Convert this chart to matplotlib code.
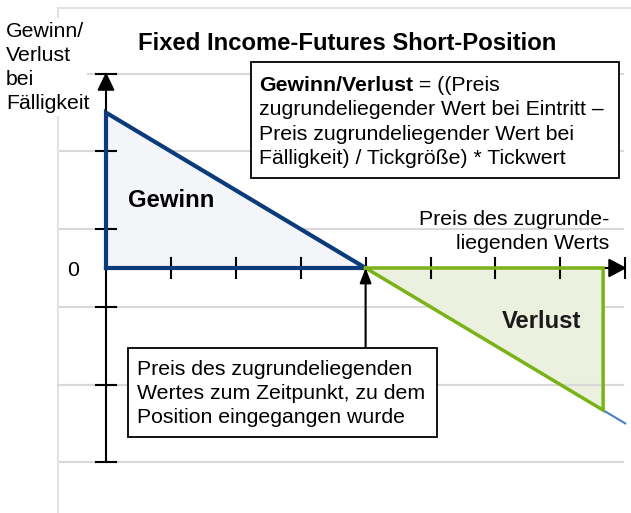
import matplotlib
matplotlib.use("Agg")
import matplotlib.pyplot as plt
from matplotlib.patches import Polygon, Rectangle

plt.rcParams['font.family'] = ['Liberation Sans', 'DejaVu Sans']

# --- data (payoff diagram of a short futures position) ---
entry_price = 4.0
price_max = 8.0
loss_end = 7.66
payoff_at_zero = 2.0
slope = -0.5
y_ticks = [2.5, 1.5, 0.5, -0.5, -1.5, -2.5]
x_ticks = [1, 2, 3, 4, 5, 6, 7]

title = "Fixed Income-Futures Short-Position"
ylabel_lines = ["Gewinn/", "Verlust", "bei", "Fälligkeit"]
xlabel_lines = ["Preis des zugrunde-", "liegenden Werts"]
gain_label = "Gewinn"
loss_label = "Verlust"
formula_bold = "Gewinn/Verlust"
formula_lines = [" = ((Preis", "zugrundeliegender Wert bei Eintritt –",
                 "Preis zugrundeliegender Wert bei", "Fälligkeit) / Tickgröße) * Tickwert"]
entry_lines = ["Preis des zugrundeliegenden", "Wertes zum Zeitpunkt, zu dem",
               "Position eingegangen wurde"]

W, H = 631, 513
fig = plt.figure(figsize=(W / 100, H / 100), dpi=100)

# pixel mapping: x=0 at px 106, 64.9 px/unit ; y=0 at px 268, 77.7 px/unit
x0px, xs = 106.0, 64.9
y0px, ys = 268.0, 77.7
ax = fig.add_axes([0, 0, 1, 1])
ax.set_xlim(-x0px / xs, (W - x0px) / xs)
ax.set_ylim(-(H - y0px) / ys, y0px / ys)
ax.axis('off')

def payoff(p):
    return payoff_at_zero + slope * p

grid_left = (58 - x0px) / xs
grid_right = (623 - x0px) / xs
frame_top = (y0px - 8) / ys
grid_c = '#D9D9D9'
for yv in y_ticks:
    ax.plot([grid_left, grid_right], [yv, yv], color=grid_c, lw=1.5, zorder=1)
ax.plot([grid_left, ax.get_xlim()[1]], [frame_top, frame_top], color='#E3E3E3', lw=1.5, zorder=1)
ax.plot([grid_left, grid_left], [ax.get_ylim()[0], frame_top], color='#E3E3E3', lw=1.5, zorder=1)

# fills
ax.add_patch(Polygon([[0, 0], [0, payoff(0)], [entry_price, 0]], closed=True,
                     facecolor='#F3F5F9', edgecolor='none', zorder=2))
ax.add_patch(Polygon([[entry_price, 0], [loss_end, 0], [loss_end, payoff(loss_end)]], closed=True,
                     facecolor='#EBF1DE', edgecolor='none', zorder=2))
# gridline over the green fill
ax.plot([grid_left, grid_right], [-1.5, -1.5], color=grid_c, lw=1.5, zorder=2.5)

# axes (black)
ax.plot([0, 0], [y_ticks[-1], y_ticks[0]], color='black', lw=1.5, zorder=3)
ax.plot([0, price_max], [0, 0], color='black', lw=1.5, zorder=3)
for yv in y_ticks:
    ax.plot([-0.15, 0.15], [yv, yv], color='black', lw=1.5, zorder=3)
for xv in x_ticks:
    ax.plot([xv, xv], [-0.13, 0.13], color='black', lw=1.5, zorder=3)
ax.plot([price_max, price_max], [-0.13, 0.13], color='black', lw=1.5, zorder=3)
# arrow heads
ax.add_patch(Polygon([[0, y_ticks[0]], [-0.12, y_ticks[0] - 0.21], [0.12, y_ticks[0] - 0.21]],
                     closed=True, facecolor='black', edgecolor='black', zorder=4))
ax.add_patch(Polygon([[price_max, 0], [price_max - 0.25, 0.11], [price_max - 0.25, -0.11]],
                     closed=True, facecolor='black', edgecolor='black', zorder=4))

# thin payoff line
ax.plot([0, price_max], [payoff(0), payoff(price_max)], color='#4A7FC8', lw=1.5, zorder=4)
# gain outline
ax.plot([0, 0, entry_price, 0], [0, payoff(0), 0, 0], color='#0B3B7B', lw=3, zorder=5,
        solid_joinstyle='miter')
# loss outline
ax.plot([entry_price, loss_end, loss_end, entry_price], [0, 0, payoff(loss_end), 0],
        color='#7AB317', lw=2.5, zorder=5, solid_joinstyle='miter')

# entry arrow
ax.annotate('', xy=(entry_price, 0), xytext=(entry_price, (y0px - 348) / ys),
            arrowprops=dict(arrowstyle='-|>,head_width=0.35,head_length=0.9', color='black', lw=1.5,
                            shrinkA=0, shrinkB=0), zorder=6)

# --- text overlay in pixel coords ---
ov = fig.add_axes([0, 0, 1, 1], facecolor='none')
ov.set_xlim(0, W)
ov.set_ylim(H, 0)
ov.axis('off')

fs = 15.3
fsb = 17.2
ov.text(347, 50, title, ha='center', va='baseline', fontsize=fsb, fontweight='bold')

# y label with white background
ov.add_patch(Rectangle((3, 18), 84, 98, facecolor='white', edgecolor='none', zorder=2))
for yb, s in zip([37, 61, 85, 109], ylabel_lines):
    ov.text(6, yb, s, ha='left', va='baseline', fontsize=fs, zorder=3)

ov.text(73, 276, "0", ha='center', va='baseline', fontsize=fs)
ov.text(128, 207, gain_label, ha='left', va='baseline', fontsize=fsb, fontweight='bold', zorder=7)
ov.text(502, 328, loss_label, ha='left', va='baseline', fontsize=fsb, fontweight='bold',
        color='#1A1A1A', zorder=7)
for yb, s in zip([225, 249], xlabel_lines):
    ov.text(609, yb, s, ha='right', va='baseline', fontsize=fs, zorder=7)

# formula box
ov.add_patch(Rectangle((251, 62), 368, 116, facecolor='white', edgecolor='black', lw=1.3, zorder=8))
fb = [91, 115, 140, 164]
t0 = ov.text(259, fb[0], formula_bold, ha='left', va='baseline', fontsize=fs,
             fontweight='bold', zorder=9)
fig.canvas.draw()
bb = t0.get_window_extent()
ov.text(259 + bb.width, fb[0], formula_lines[0], ha='left', va='baseline', fontsize=fs, zorder=9)
for yb, s in zip(fb[1:], formula_lines[1:]):
    ov.text(259, yb, s, ha='left', va='baseline', fontsize=fs, zorder=9)

# entry box
ov.add_patch(Rectangle((128, 348), 309, 89, facecolor='white', edgecolor='black', lw=1.3, zorder=8))
for yb, s in zip([375, 399, 423], entry_lines):
    ov.text(137, yb, s, ha='left', va='baseline', fontsize=fs, zorder=9)

fig.savefig('out.png', dpi=100)
